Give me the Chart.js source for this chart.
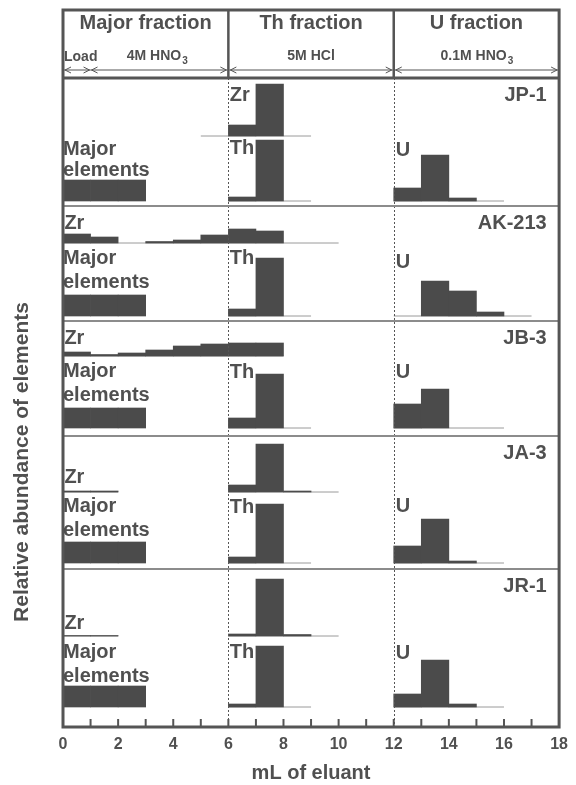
<!DOCTYPE html>
<html>
<head>
<meta charset="utf-8">
<script src="https://cdn.jsdelivr.net/npm/chart.js@4.4.1/dist/chart.umd.min.js"></script>
<style>
  html, body { margin: 0; padding: 0; background: #fff; }
  canvas { display: block; }
</style>
</head>
<body>
<canvas id="chart" width="576" height="785"></canvas>
<script>
// values (relative abundance, arbitrary units), one bin = 1 mL
const samples = ["JP-1", "AK-213", "JB-3", "JA-3", "JR-1"];
const majorStart = 0, zrStart = 0, thStart = 6, uStart = 12;

const majorElements = [
  [21, 21, 21],
  [21, 21, 21],
  [20, 20, 20],
  [21, 21, 21],
  [21, 21, 21]
];
// null = not collected, 0 = nothing detected
const zr = [
  [null, null, null, null, null, 0, 11, 52, 0],
  [9, 6, 0, 1.5, 3, 8, 14, 12, 0, 0],
  [4, 1.5, 3, 6, 10, 12, 13, 13],
  [1, 1, null, null, null, null, 7, 48, 1, 0],
  [0.5, 0.5, null, null, null, null, 2, 57, 1.5, 0]
];
const th = [
  [4, 61, 0],
  [7, 58, 0],
  [10, 54, 0],
  [6, 59, 0],
  [3, 61, 0]
];
const u = [
  [13, 46, 3, 0],
  [0, 35, 25, 4, 0],
  [24, 39, 0, 0],
  [17, 44, 2, 0],
  [13, 47, 3, 0]
];
const xTicks = [0, 2, 4, 6, 8, 10, 12, 14, 16, 18];

// layout of the five stacked panels (value units on the hidden y scale)
const panels = [
  { top: 649, zrBase: 591, base: 526, zrLab: [6.05, 632], thLab: 579, uLab: 577, majLab: [578, 557] },
  { top: 521, zrBase: 484, base: 411, zrLab: [0.05, 504], thLab: 469, uLab: 465, majLab: [469, 445] },
  { top: 406, zrBase: 371, base: 299, zrLab: [0.05, 389], thLab: 355, uLab: 355, majLab: [356, 332] },
  { top: 291, zrBase: 235, base: 164, zrLab: [0.05, 250], thLab: 220, uLab: 221, majLab: [221, 197] },
  { top: 158, zrBase: 91,  base: 20,  zrLab: [0.05, 104], thLab: 75,  uLab: 74,  majLab: [75, 51] }
];

const ink = "#505050";
const barColor = "#4b4b4b";
const FONT = "'Liberation Sans', Arial, sans-serif";

function binBars(values, start, base) {
  const out = [];
  values.forEach((v, i) => {
    if (v) out.push({ x: start + i + 0.5, y: [base, base + v] });
  });
  return out;
}

function baselineRuns(values, start, base) {
  const runs = [];
  let run = null;
  values.forEach((v, i) => {
    if (v === null) { run = null; return; }
    if (!run) { run = [start + i, start + i + 1]; runs.push(run); }
    else run[1] = start + i + 1;
  });
  return runs.map(r => [{ x: r[0], y: base }, { x: r[1], y: base }]);
}

const datasets = [];
samples.forEach((name, i) => {
  const p = panels[i];
  datasets.push({
    type: "bar",
    label: name,
    data: [
      ...binBars(majorElements[i], majorStart, p.base),
      ...binBars(zr[i], zrStart, p.zrBase),
      ...binBars(th[i], thStart, p.base),
      ...binBars(u[i], uStart, p.base)
    ],
    backgroundColor: barColor,
    borderWidth: 0,
    grouped: false,
    barPercentage: 1,
    categoryPercentage: 1,
    order: 1
  });
  const runs = [
    ...baselineRuns(zr[i], zrStart, p.zrBase),
    ...baselineRuns(th[i], thStart, p.base),
    ...baselineRuns(u[i], uStart, p.base)
  ];
  runs.forEach(r => {
    datasets.push({
      type: "line",
      label: name + " baseline",
      data: r,
      borderColor: "#9a9a9a",
      borderWidth: 1,
      pointRadius: 0,
      order: 2
    });
  });
});

function line(ctx, x1, y1, x2, y2) {
  ctx.beginPath();
  ctx.moveTo(x1, y1);
  ctx.lineTo(x2, y2);
  ctx.stroke();
}

function arrow(ctx, x1, x2, y) {
  line(ctx, x1, y, x2, y);
  ctx.beginPath();
  ctx.moveTo(x1 + 7, y - 3); ctx.lineTo(x1 + 1, y); ctx.lineTo(x1 + 7, y + 3);
  ctx.moveTo(x2 - 7, y - 3); ctx.lineTo(x2 - 1, y); ctx.lineTo(x2 - 7, y + 3);
  ctx.stroke();
}

// text with a subscript tail, e.g. HNO3
function subText(ctx, main, sub, cx, y) {
  ctx.font = "bold 14px " + FONT;
  const w1 = ctx.measureText(main).width;
  ctx.font = "bold 10px " + FONT;
  const w2 = ctx.measureText(sub).width;
  const left = cx - (w1 + w2) / 2;
  ctx.textAlign = "left";
  ctx.font = "bold 14px " + FONT;
  ctx.fillText(main, left, y);
  ctx.font = "bold 10px " + FONT;
  ctx.fillText(sub, left + w1 + 1, y + 5);
}

const overlay = {
  id: "overlay",
  afterDraw(chart) {
    const { ctx, chartArea: a, scales: { x, y } } = chart;
    const headTop = a.top - 68;
    ctx.save();

    // dotted fraction dividers
    ctx.strokeStyle = "#555";
    ctx.lineWidth = 1;
    ctx.setLineDash([2, 2]);
    [6, 12].forEach(v => {
      const px = Math.round(x.getPixelForValue(v)) + 0.5;
      line(ctx, px, a.top, px, a.bottom);
    });
    ctx.setLineDash([]);

    // panel separators
    ctx.strokeStyle = "#8c8c8c";
    ctx.lineWidth = 2;
    panels.slice(1).forEach(p => {
      const py = Math.round(y.getPixelForValue(p.top));
      line(ctx, a.left, py, a.right, py);
    });

    // inward tick marks
    ctx.strokeStyle = "#555";
    ctx.lineWidth = 2;
    for (let v = 1; v < 18; v++) {
      const px = x.getPixelForValue(v);
      line(ctx, px, a.bottom, px, a.bottom - 8);
    }

    // frame + header box
    ctx.lineWidth = 3;
    ctx.strokeStyle = "#555";
    ctx.strokeRect(a.left, headTop, a.right - a.left, a.bottom - headTop);
    line(ctx, a.left, a.top, a.right, a.top);
    ctx.lineWidth = 2.5;
    [6, 12].forEach(v => {
      const px = x.getPixelForValue(v);
      line(ctx, px, headTop, px, a.top);
    });

    // header text
    ctx.fillStyle = ink;
    ctx.textBaseline = "middle";
    ctx.textAlign = "center";
    ctx.font = "bold 20px " + FONT;
    ctx.fillText("Major fraction", x.getPixelForValue(3), headTop + 13);
    ctx.fillText("Th fraction", x.getPixelForValue(9), headTop + 13);
    ctx.fillText("U fraction", x.getPixelForValue(15), headTop + 13);

    ctx.font = "bold 14px " + FONT;
    ctx.textAlign = "left";
    ctx.fillText("Load", x.getPixelForValue(0) + 1, headTop + 47);
    subText(ctx, "4M HNO", "3", x.getPixelForValue(3.4), headTop + 46);
    ctx.textAlign = "center";
    ctx.font = "bold 14px " + FONT;
    ctx.fillText("5M HCl", x.getPixelForValue(9), headTop + 46);
    subText(ctx, "0.1M HNO", "3", x.getPixelForValue(15), headTop + 46);

    ctx.strokeStyle = "#555";
    ctx.lineWidth = 1;
    const ay = headTop + 60;
    arrow(ctx, x.getPixelForValue(0) + 1, x.getPixelForValue(1), ay);
    arrow(ctx, x.getPixelForValue(1), x.getPixelForValue(6) - 1, ay);
    arrow(ctx, x.getPixelForValue(6) + 1, x.getPixelForValue(12) - 1, ay);
    arrow(ctx, x.getPixelForValue(12) + 1, x.getPixelForValue(18) - 1, ay);

    // element labels and sample names
    ctx.font = "bold 20px " + FONT;
    panels.forEach((p, i) => {
      ctx.textAlign = "left";
      ctx.fillText("Zr", x.getPixelForValue(p.zrLab[0]), y.getPixelForValue(p.zrLab[1]));
      ctx.fillText("Th", x.getPixelForValue(6.05), y.getPixelForValue(p.thLab));
      ctx.fillText("U", x.getPixelForValue(12.07), y.getPixelForValue(p.uLab));
      ctx.fillText("Major", x.getPixelForValue(0), y.getPixelForValue(p.majLab[0]));
      ctx.fillText("elements", x.getPixelForValue(0), y.getPixelForValue(p.majLab[1]));
      ctx.textAlign = "right";
      ctx.fillText(samples[i], x.getPixelForValue(17.55), y.getPixelForValue(p.top - 17));
    });

    // y axis title
    ctx.save();
    ctx.translate(22, 462);
    ctx.rotate(-Math.PI / 2);
    ctx.textAlign = "center";
    ctx.font = "bold 21px " + FONT;
    ctx.fillText("Relative abundance of elements", 0, 0);
    ctx.restore();

    ctx.restore();
  }
};

new Chart(document.getElementById("chart"), {
  type: "bar",
  data: { datasets },
  options: {
    responsive: false,
    animation: false,
    devicePixelRatio: 1,
    layout: { padding: { left: 63, right: 9, top: 78, bottom: 0 } },
    plugins: { legend: { display: false }, tooltip: { enabled: false } },
    scales: {
      x: {
        type: "linear",
        min: 0,
        max: 18,
        offset: false,
        grid: { display: false, drawTicks: false, offset: false },
        border: { display: false },
        afterFit: s => { s.height = 58; },
        afterBuildTicks: s => { s.ticks = xTicks.map(v => ({ value: v })); },
        ticks: {
          autoSkip: false,
          maxRotation: 0,
          padding: 8,
          color: ink,
          font: { family: FONT, size: 16, weight: "bold" }
        },
        title: {
          display: true,
          text: "mL of eluant",
          color: ink,
          padding: { top: 0, bottom: 2 },
          font: { family: FONT, size: 20, weight: "bold", lineHeight: 1 }
        }
      },
      y: { display: false, min: 0, max: 649 }
    }
  },
  plugins: [overlay]
});
</script>
</body>
</html>
